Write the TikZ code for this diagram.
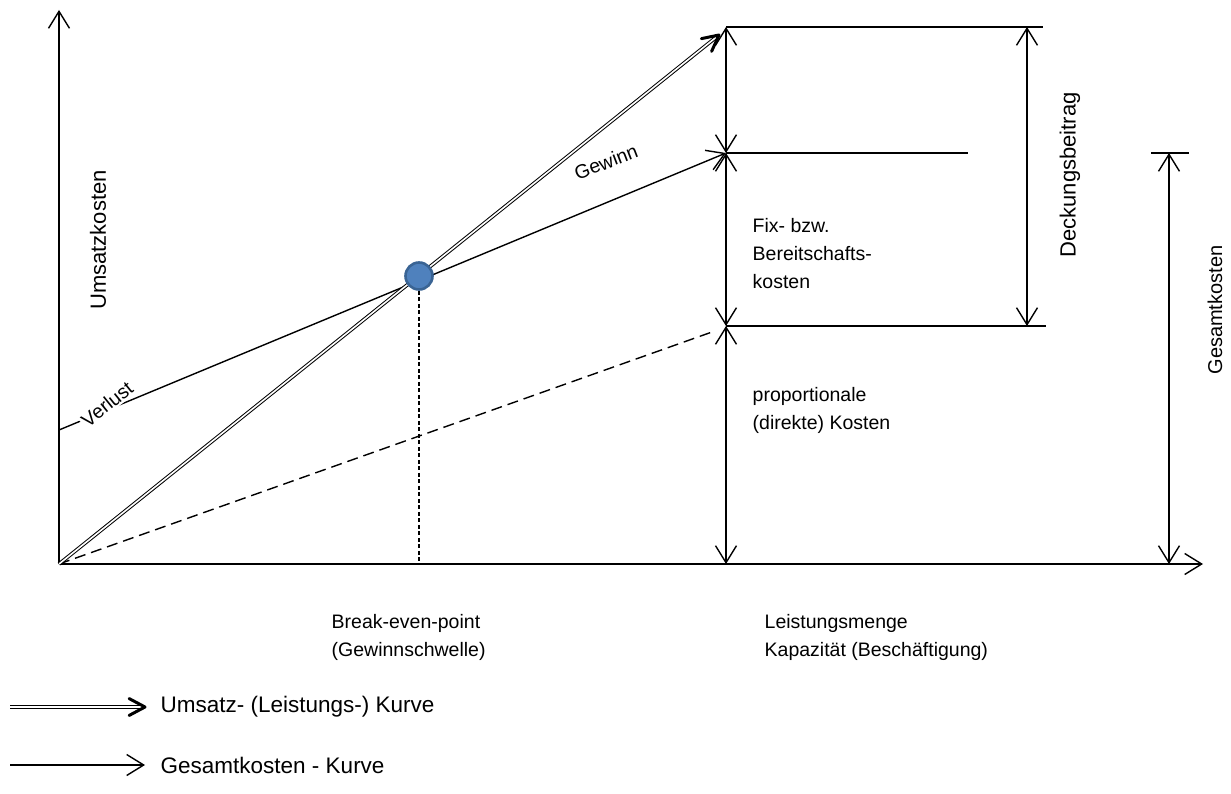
\documentclass[tikz,border=0pt]{standalone}
\usepackage{fontspec}
\setmainfont{Liberation Sans}
\usetikzlibrary{arrows.meta,calc}
\definecolor{bepfill}{HTML}{4F81BD}
\definecolor{bepdraw}{HTML}{3A6494}
\begin{document}
\begin{tikzpicture}[x=1pt,y=-1pt,
  line width=1.4pt,
  barb/.tip={Straight Barb[length=17pt,width=21pt]},
  onetip/.style={-barb},
  twotip/.style={barb-barb},
  umsatz/.style={double, double distance=1.6pt, line width=1pt},
  boldbarb/.style={line width=3pt, line cap=round, line join=round},
  lbl/.style={font=\fontsize{19.5pt}{28pt}\selectfont, inner sep=0pt},
  vlbl/.style={inner sep=0pt, rotate=90},
  lgd/.style={font=\fontsize{22.5pt}{28pt}\selectfont, inner sep=0pt, anchor=west},
]
\useasboundingbox (0,0) rectangle (1231,794);

% key points
\coordinate (O) at (59,564);
\coordinate (Ytop) at (59,10);
\coordinate (Xend) at (1203,564);
\coordinate (U) at (719,35);
\coordinate (C0) at (59,430);
\coordinate (Ctip) at (726,153);
\coordinate (Dend) at (712,332);
\coordinate (V1) at (726,27);
\coordinate (V2) at (726,153);
\coordinate (V3) at (726,326);
\coordinate (V4) at (726,564);
\coordinate (H1) at (1043,27);
\coordinate (H2) at (968,153);
\coordinate (H3) at (1046,326);
\coordinate (D1) at (1027,27);
\coordinate (D2) at (1027,326);
\coordinate (G1) at (1169,153);
\coordinate (G2) at (1169,564);
\coordinate (GL) at (1151,153);
\coordinate (GR) at (1189,153);

% axes
\draw[onetip] (O) -- (Ytop);
\draw[onetip] (O) -- (Xend);

% proportional costs (dashed)
\draw[dash pattern=on 11pt off 6pt] (O) -- (Dend);

% total cost curve
\draw[onetip] (C0) -- (Ctip);

% revenue curve (double line with bold tip)
\draw[umsatz] (O) -- ($(U)!3pt!(O)$);
\draw[boldbarb] ($(U)!18pt!27:(O)$) -- (U) -- ($(U)!18pt!-27:(O)$);

% break-even point
\node[circle, fill=bepfill, draw=bepdraw, line width=2.6pt, minimum size=27pt, inner sep=0pt] (B) at (419,276) {};
\draw[line width=1.2pt, dash pattern=on 4pt off 2.5pt] (B.south) -- (B |- O);

% vertical dimension arrows at capacity
\draw[twotip] (V2) -- (V1);
\draw[twotip] (V3) -- (V2);
\draw[twotip] (V4) -- (V3);
\draw (V1) -- (H1);
\draw (V2) -- (H2);
\draw (V3) -- (H3);
\draw[twotip] (D2) -- (D1);
\draw[twotip] (G2) -- (G1);
\draw (GL) -- (GR);

% labels
\node[vlbl, font=\fontsize{22pt}{28pt}\selectfont] (tUK) at (98,240) {Umsatzkosten};
\node[lbl, rotate=38.7, fill=white, inner sep=2pt] (tV) at (107,404) {Verlust};
\node[lbl, rotate=21] (tG) at (606,162) {Gewinn};
\node[lbl, anchor=north west, align=left] (tFix) at (752,218) {Fix- bzw.\\Bereitschafts-\\kosten};
\node[lbl, anchor=north west, align=left] (tProp) at (752,387) {proportionale\\(direkte) Kosten};
\node[vlbl, font=\fontsize{22pt}{28pt}\selectfont] (tDB) at (1070,175) {Deckungsbeitrag};
\node[vlbl, font=\fontsize{20pt}{28pt}\selectfont] (tGK) at (1215,310) {Gesamtkosten};
\node[lbl, anchor=north west, align=left] (tBE) at (331,614) {Break-even-point\\(Gewinnschwelle)};
\node[lbl, anchor=north west, align=left] (tLM) at (764,614) {Leistungsmenge\\Kapazität (Beschäftigung)};

% legend
\coordinate (L1a) at (10,707);
\coordinate (L1b) at (145,707);
\coordinate (L2a) at (10,765);
\coordinate (L2b) at (145,765);
\draw[umsatz] (L1a) -- ($(L1b)!3pt!(L1a)$);
\draw[boldbarb] ($(L1b)!18pt!28:(L1a)$) -- (L1b) -- ($(L1b)!18pt!-28:(L1a)$);
\draw[onetip] (L2a) -- (L2b);
\node[lgd] (tL1) at (160,707) {Umsatz- (Leistungs-) Kurve};
\node[lgd] (tL2) at (160,765) {Gesamtkosten - Kurve};
\end{tikzpicture}
\end{document}
